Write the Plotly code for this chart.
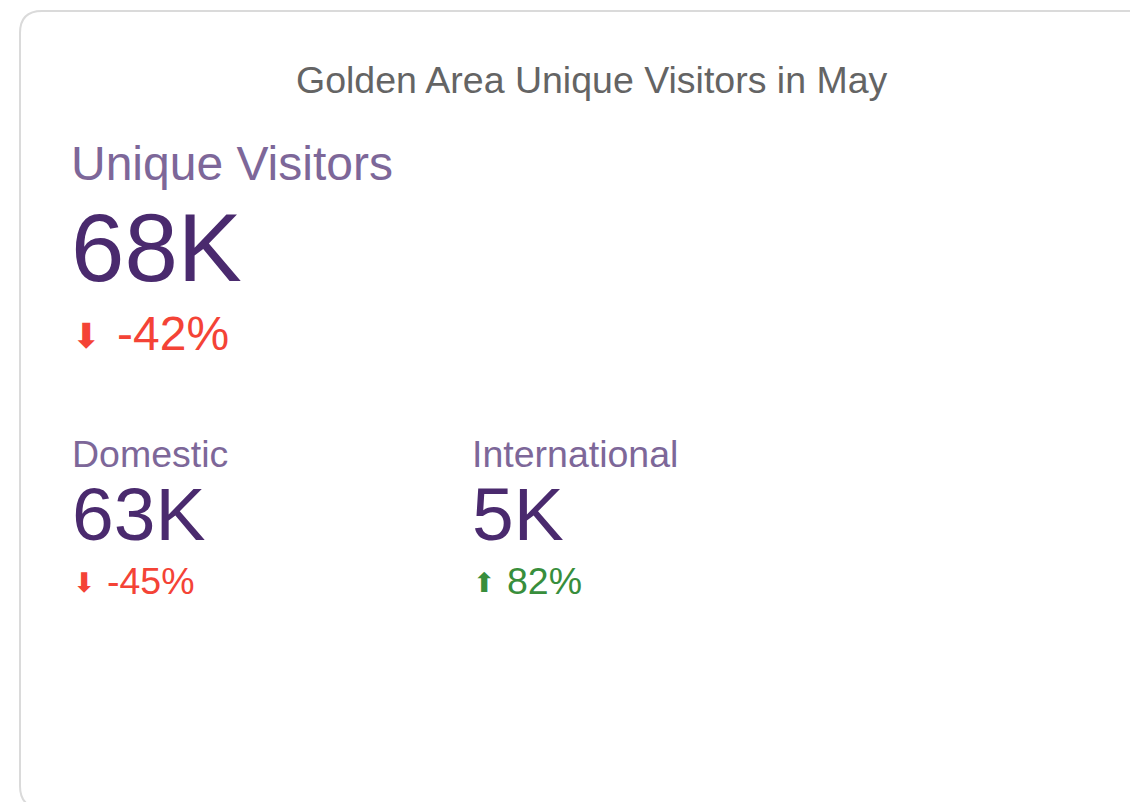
import plotly.graph_objects as go

# KPI card data
title = "Golden Area Unique Visitors in May"
labels = ["Unique Visitors", "Domestic", "International"]
visitors = [68000, 63000, 5000]
change_pct = [-42, -45, 82]

W, H = 1138, 802
OX, OY = -8, -8  # page body margin compensation
label_col = "#7d6799"
num_col = "#4a2a6e"
up_col = "#388e3c"
down_col = "#f44336"
font = "Liberation Sans, Arial, sans-serif"

fig = go.Figure()

# card outline (rounded rect running off the right / bottom edge)
L, T, R, B, r = 20 + OX, 11 + OY, 1175, 808 + OY, 22
card = (f"M {L},{T + r} Q {L},{T} {L + r},{T} L {R - r},{T} Q {R},{T} {R},{T + r} "
        f"L {R},{B - r} Q {R},{B} {R - r},{B} L {L + r},{B} Q {L},{B} {L},{B - r} Z")
fig.add_shape(type="path", path=card, xref="x", yref="y",
              line=dict(color="#dadada", width=2), fillcolor="white", layer="below")

fig.add_annotation(x=592 + OX, y=79.5 + OY, text=title, showarrow=False,
                   font=dict(size=37.5, color="#646464", family=font),
                   xanchor="center", yanchor="middle")

# big block + two small blocks:
# (x, label_y, num_y, delta_y, label size, num size, delta size, delta x offset)
blocks = [
    (69, 163.4, 247.0, 333.4, 48, 96, 48, 46),
    (70, 454.0, 514.0, 580.5, 37.5, 75, 37.5, 35),
    (470, 454.0, 514.0, 580.5, 37.5, 75, 37.5, 35),
]

for i, (x, ly, ny, dy, ls, ns, ds, dx) in enumerate(blocks):
    x += OX
    ly, ny, dy = ly + OY, ny + OY, dy + OY
    fig.add_annotation(x=x, y=ly, text=labels[i], showarrow=False,
                       font=dict(size=ls, color=label_col, family=font),
                       xanchor="left", yanchor="middle")
    fig.add_annotation(x=x, y=ny, text=f"{visitors[i] / 1000:.0f}K", showarrow=False,
                       font=dict(size=ns, color=num_col, family=font),
                       xanchor="left", yanchor="middle")
    c = change_pct[i]
    col = up_col if c > 0 else down_col
    arrow = "⬆" if c > 0 else "⬇"
    fig.add_annotation(x=x + 1, y=dy + ds * 0.05, text=arrow, showarrow=False,
                       font=dict(size=ds * 0.72, color=col, family="DejaVu Sans"),
                       xanchor="left", yanchor="middle")
    fig.add_annotation(x=x + dx, y=dy, text=f"{c}%", showarrow=False,
                       font=dict(size=ds, color=col, family=font),
                       xanchor="left", yanchor="middle")

fig.update_xaxes(range=[0, W], visible=False, fixedrange=True)
fig.update_yaxes(range=[H, 0], visible=False, fixedrange=True)
fig.update_layout(width=W, height=H, margin=dict(l=0, r=0, t=0, b=0),
                  paper_bgcolor="white", plot_bgcolor="white", showlegend=False)

fig.write_html("out.html")
